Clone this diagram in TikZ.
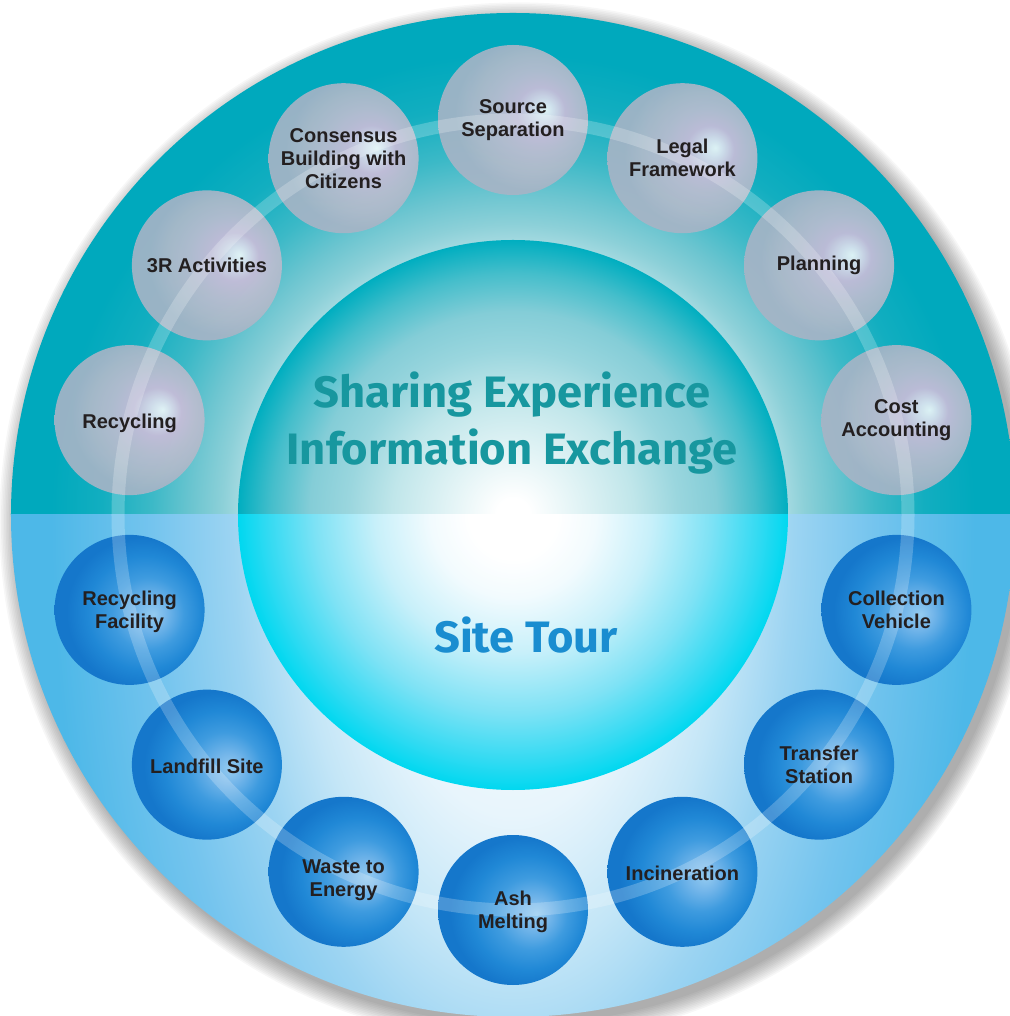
\documentclass[tikz,border=0pt]{standalone}
\usepackage{fontspec}
\setmainfont{Liberation Sans}
\newfontfamily\headfont[FakeStretch=1.03]{Fira Sans}
\usetikzlibrary{positioning, calc}

% colours
\definecolor{labelc}{HTML}{231F20}
\definecolor{headc}{HTML}{17979F}
\definecolor{sitec}{HTML}{1A8DD0}
\definecolor{ringT0}{HTML}{A0D8DF}
\definecolor{ringT1}{HTML}{8CD0D8}
\definecolor{ringT2}{HTML}{6CC5D0}
\definecolor{ringT3}{HTML}{3CB9C7}
\definecolor{ringT4}{HTML}{12AEC0}
\definecolor{ringT5}{HTML}{00A9BD}
\definecolor{ringL0}{HTML}{E8F5FC}
\definecolor{ringL1}{HTML}{C4E6F7}
\definecolor{ringL2}{HTML}{9CD4F2}
\definecolor{ringL3}{HTML}{74C4EE}
\definecolor{ringL4}{HTML}{4DB8E8}
\definecolor{coreT1}{HTML}{C0E6EA}
\definecolor{coreT2}{HTML}{9AD6DE}
\definecolor{coreT3}{HTML}{84CDD7}
\definecolor{coreT4}{HTML}{45BECB}
\definecolor{coreT5}{HTML}{00AEC0}
\definecolor{coreL1}{HTML}{F2FBFE}
\definecolor{coreL2}{HTML}{C8F0FA}
\definecolor{coreL3}{HTML}{7EE2F5}
\definecolor{coreL4}{HTML}{30DAF2}
\definecolor{coreL5}{HTML}{00D8F0}
\definecolor{glowW}{HTML}{F2FAFB}
\definecolor{glowV}{HTML}{E2E4F0}
\definecolor{glowP}{HTML}{CDBDD9}
\definecolor{greyA}{HTML}{BFBDD0}
\definecolor{greyB}{HTML}{B4BACA}
\definecolor{greyC}{HTML}{A8B4C6}
\definecolor{blueH}{HTML}{94CBF0}
\definecolor{blueH2}{HTML}{74B6EA}
\definecolor{blueM}{HTML}{3E9BDF}
\definecolor{blueD}{HTML}{2088D6}
\definecolor{blueDD}{HTML}{1577CB}

% shadings (25bp = edge of the shaded path)
\pgfdeclareradialshading{outertop}{\pgfpointorigin}{color(0bp)=(white); color(13.75bp)=(ringT0); color(14.5bp)=(ringT1); color(16bp)=(ringT2); color(18bp)=(ringT3); color(20.5bp)=(ringT4); color(23bp)=(ringT5); color(50bp)=(ringT5)}
\pgfdeclareradialshading{outerlow}{\pgfpointorigin}{color(0bp)=(white); color(7.5bp)=(ringL0); color(11bp)=(ringL1); color(14bp)=(ringL2); color(18bp)=(ringL3); color(23bp)=(ringL4); color(50bp)=(ringL4)}
\pgfdeclareradialshading{innertop}{\pgfpointorigin}{color(0bp)=(white); color(1.5bp)=(white); color(11bp)=(coreT1); color(15bp)=(coreT2); color(18.5bp)=(coreT3); color(22bp)=(coreT4); color(25bp)=(coreT5); color(50bp)=(coreT5)}
\pgfdeclareradialshading{innerlow}{\pgfpointorigin}{color(0bp)=(white); color(4bp)=(white); color(7.5bp)=(coreL1); color(12.5bp)=(coreL2); color(18bp)=(coreL3); color(22.5bp)=(coreL4); color(25bp)=(coreL5); color(50bp)=(coreL5)}
\pgfdeclareradialshading{topball}{\pgfpoint{11bp}{3.5bp}}{color(0bp)=(glowW); color(3bp)=(glowV); color(8bp)=(glowP); color(14bp)=(greyA); color(20bp)=(greyB); color(25bp)=(greyC); color(50bp)=(greyC)}
\pgfdeclareradialshading{siteball}{\pgfpoint{8bp}{-1.5bp}}{color(0bp)=(blueH); color(5bp)=(blueH2); color(12bp)=(blueM); color(19bp)=(blueD); color(25bp)=(blueDD); color(50bp)=(blueDD)}

\begin{document}
\begin{tikzpicture}
    [x=0.5pt, y=0.5pt,
    ball/.style={circle, minimum size=75pt, inner sep=0pt},
    top ball/.style={ball, shading=topball, fill opacity=.9},
    site ball/.style={ball, shading=siteball},
    ball label/.style={align=center, text=labelc, font=\bfseries\fontsize{10}{11.5}\selectfont},
    head/.style={align=center, text=headc, font=\headfont\bfseries\fontsize{22}{28.5}\selectfont}]
    \useasboundingbox (-513,-501) rectangle (496,515);
    \coordinate (c) at (0,0);

    % soft shadow
    \foreach \k in {0,...,11}
      \fill[black, opacity=.03] (6,-7) circle (502+1.6*\k);

    % outer disc
    \begin{scope}
      \clip (-510,0) rectangle (510,510);
      \shade[shading=outertop] (c) circle (502);
    \end{scope}
    \begin{scope}
      \clip (c) circle (502);
      \clip (-510,0) rectangle (510,-510);
      \shade[shading=outerlow] (c) ellipse (502 and 1000);
    \end{scope}

    % inner disc
    \begin{scope}
      \clip (-280,0) rectangle (280,280);
      \shade[shading=innertop] (c) circle (275);
    \end{scope}
    \begin{scope}
      \clip (-280,0) rectangle (280,-280);
      \shade[shading=innerlow] (c) circle (275);
    \end{scope}

    % balls
    \foreach \a/\n in {90/src, 115.4/cns, 140.8/thr, 166.1/rcy, 64.6/leg, 39.2/pln, 13.9/cst}
      \node[top ball] (\n) at (\a:395) {};
    \foreach \a/\n in {193.9/rfa, 219.2/lfs, 244.6/wte, 270/ash, 295.4/inc, 320.8/trs, 346.1/col}
      \node[site ball] (\n) at (\a:395) {};

    \draw[white, opacity=.22, line width=6.5pt] (c) circle (395);

    % labels
    \foreach \n/\t/\dy in {src/{Source\\Separation}/0, cns/{Consensus\\Building with\\Citizens}/0,
        thr/{3R Activities}/0, rcy/{Recycling}/-3, leg/{Legal\\Framework}/0, pln/{Planning}/0,
        cst/{Cost\\Accounting}/0, rfa/{Recycling\\Facility}/-2, lfs/{Landfill Site}/-2,
        wte/{Waste to\\Energy}/-8, ash/{Ash\\Melting}/-2, inc/{Incineration}/-2,
        trs/{Transfer\\Station}/0, col/{Collection\\Vehicle}/0}
      \node[ball label] (\n-t) at ($(\n)+(0,\dy)$) {\t};

    \node[head] (share) at (-1,92) {Sharing Experience\\Information Exchange};
    \node[head, text=sitec] (site) at (13,-120) {Site Tour};
\end{tikzpicture}
\end{document}
